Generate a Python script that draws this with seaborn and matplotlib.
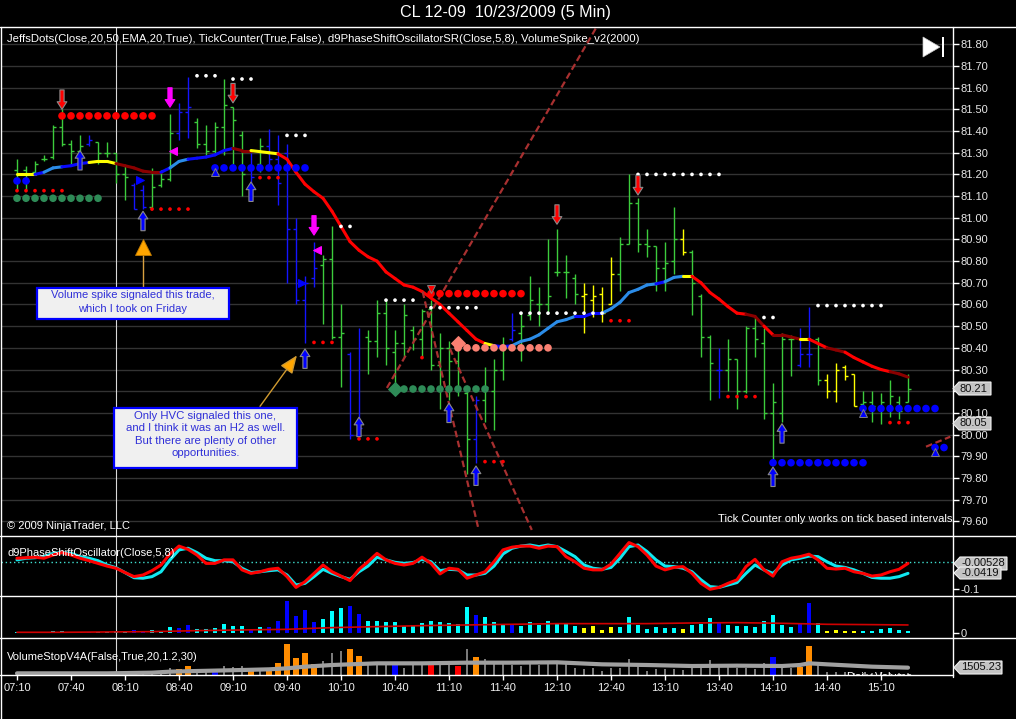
import numpy as np
import pandas as pd
import seaborn as sns
import matplotlib.pyplot as plt
from matplotlib.collections import LineCollection
from matplotlib.lines import Line2D
from matplotlib.patches import Polygon, Rectangle

W, H = 1016, 719

# 5 min bars CL 12-09, 10/23/2009, 07:10 .. 15:25
bar_open = [81.22, 81.22, 81.21, 81.27, 81.28, 81.42, 81.34, 81.31, 81.34, 81.35,
            81.30, 81.30, 81.20, 81.15, 81.13, 81.05, 81.15, 81.18, 81.39, 81.49,
            81.44, 81.34, 81.31, 81.42, 81.51, 81.38, 81.22, 81.25, 81.33, 81.27,
            81.30, 80.95, 80.62, 80.72, 80.78, 80.81, 80.45, 80.37, 80.00, 80.45,
            80.43, 80.56, 80.38, 80.42, 80.48, 80.44, 80.58, 80.32, 80.40, 80.34,
            80.19, 79.98, 80.16, 80.20, 80.30, 80.44, 80.47, 80.55, 80.60, 80.60,
            80.75, 80.75, 80.72, 80.64, 80.62, 80.65, 80.60, 80.74, 80.88, 81.07,
            80.88, 80.87, 80.77, 80.80, 80.90, 80.84, 80.64, 80.45, 80.30, 80.30,
            80.35, 80.20, 80.49, 80.42, 80.10, 80.10, 80.44, 80.32, 80.37, 80.44,
            80.25, 80.20, 80.31, 80.28, 80.14, 80.15, 80.12, 80.13, 80.15, 80.15]
bar_high = [81.27, 81.24, 81.26, 81.29, 81.43, 81.50, 81.36, 81.38, 81.38, 81.35,
            81.35, 81.30, 81.24, 81.16, 81.15, 81.23, 81.22, 81.48, 81.53, 81.65,
            81.46, 81.43, 81.44, 81.64, 81.51, 81.40, 81.30, 81.37, 81.41, 81.38,
            81.34, 81.00, 80.73, 80.89, 80.83, 80.96, 80.60, 80.38, 80.49, 80.48,
            80.62, 80.62, 80.48, 80.60, 80.50, 80.58, 80.62, 80.47, 80.43, 80.44,
            80.20, 80.18, 80.31, 80.35, 80.45, 80.56, 80.56, 80.73, 80.68, 80.90,
            80.95, 80.83, 80.74, 80.70, 80.69, 80.68, 80.82, 80.91, 81.20, 81.09,
            80.95, 80.87, 80.89, 81.05, 80.95, 80.85, 80.65, 80.46, 80.40, 80.44,
            80.35, 80.50, 80.54, 80.49, 80.24, 80.47, 80.46, 80.49, 80.59, 80.45,
            80.28, 80.33, 80.32, 80.28, 80.20, 80.20, 80.19, 80.25, 80.18, 80.28]
bar_low = [81.13, 81.13, 81.20, 81.26, 81.27, 81.33, 81.25, 81.30, 81.33, 81.25,
           81.28, 81.16, 81.08, 81.04, 81.04, 81.04, 81.14, 81.17, 81.36, 81.37,
           81.32, 81.29, 81.29, 81.29, 81.25, 81.10, 81.16, 81.21, 81.24, 81.06,
           80.70, 80.60, 80.42, 80.68, 80.51, 80.44, 80.22, 79.98, 79.99, 80.28,
           80.36, 80.32, 80.22, 80.36, 80.39, 80.36, 80.30, 80.12, 80.16, 80.18,
           79.82, 79.87, 80.06, 80.02, 80.25, 80.43, 80.34, 80.53, 80.50, 80.56,
           80.73, 80.63, 80.60, 80.47, 80.54, 80.52, 80.60, 80.66, 80.88, 80.84,
           80.82, 80.66, 80.66, 80.74, 80.83, 80.55, 80.36, 80.16, 80.17, 80.20,
           80.12, 80.19, 80.36, 80.07, 79.87, 80.06, 80.27, 80.31, 80.31, 80.23,
           80.17, 80.15, 80.25, 80.13, 80.10, 80.06, 80.05, 80.08, 80.07, 80.15]
bar_close = [81.20, 81.17, 81.25, 81.27, 81.42, 81.34, 81.31, 81.33, 81.36, 81.30,
             81.30, 81.20, 81.19, 81.04, 81.05, 81.14, 81.18, 81.39, 81.49, 81.51,
             81.34, 81.31, 81.42, 81.52, 81.45, 81.20, 81.19, 81.33, 81.27, 81.16,
             80.95, 80.62, 80.70, 80.77, 80.81, 80.45, 80.47, 80.00, 80.03, 80.43,
             80.56, 80.40, 80.42, 80.55, 80.44, 80.57, 80.32, 80.40, 80.34, 80.40,
             79.98, 80.16, 80.22, 80.30, 80.40, 80.48, 80.50, 80.62, 80.60, 80.64,
             80.75, 80.75, 80.65, 80.65, 80.64, 80.56, 80.74, 80.88, 81.07, 80.88,
             80.87, 80.77, 80.79, 80.90, 80.84, 80.70, 80.45, 80.33, 80.30, 80.35,
             80.20, 80.49, 80.44, 80.10, 80.15, 80.44, 80.44, 80.37, 80.37, 80.25,
             80.20, 80.30, 80.27, 80.13, 80.15, 80.13, 80.15, 80.18, 80.11, 80.21]
bar_color = ("gggggggg" "b" "gggg" "bb" "ggg" "bb" "gggggg" "b" "g" "bbbbbb"
             "ggg" "bb" "gggggggggggg" "b" "ggg" "b" "ggggggg" "yyyy" "ggggggg"
             "y" "ggg" "b" "gggggggg" "bb" "g" "yyyy" "gggggg")

# JeffsDots EMA(20), coloured per segment
ema = [81.20, 81.20, 81.20, 81.21, 81.23, 81.235, 81.24, 81.25, 81.255, 81.26,
       81.26, 81.25, 81.24, 81.23, 81.215, 81.21, 81.21, 81.23, 81.26, 81.27,
       81.275, 81.28, 81.29, 81.31, 81.32, 81.31, 81.31, 81.305, 81.30, 81.295,
       81.27, 81.21, 81.155, 81.12, 81.09, 81.03, 80.96, 80.89, 80.85, 80.82,
       80.80, 80.75, 80.72, 80.69, 80.68, 80.66, 80.63, 80.60, 80.56, 80.52,
       80.48, 80.44, 80.42, 80.41, 80.405, 80.41, 80.43, 80.44, 80.46, 80.49,
       80.52, 80.53, 80.545, 80.545, 80.56, 80.56, 80.58, 80.61, 80.655, 80.67,
       80.69, 80.695, 80.705, 80.725, 80.73, 80.73, 80.70, 80.655, 80.625, 80.59,
       80.56, 80.555, 80.545, 80.50, 80.46, 80.46, 80.45, 80.44, 80.44, 80.42,
       80.40, 80.39, 80.38, 80.355, 80.335, 80.315, 80.30, 80.29, 80.28, 80.265]
ema_seg = ("yy" "b" "ll" "bbb" "yyy" "ddddd" "b" "ll" "bbbbb" "dd" "yyy"
           + "r" * 23 + "y" "bb" "lllllll" "bbb" "llllll" "b" "ll" "y"
           "rrrrrr" "dd" "r" "ddd" "y" "rr" "dd" "rrrrr" "dd")

# dot rows: first bar, last bar, price, kind
dot_start = [5, 0, 0, 0, 15, 20, 24, 22, 27, 30, 36, 33, 38, 41, 46,
             46, 45, 49, 42, 52, 56, 66, 69, 79, 83, 84, 89, 94, 97, 102]
dot_end = [15, 5, 9, 1, 19, 22, 26, 32, 29, 32, 37, 35, 40, 44, 56,
           51, 45, 59, 52, 54, 65, 68, 78, 82, 84, 94, 96, 102, 99, 103]
dot_price = [81.47, 81.125, 81.09, 81.17, 81.04, 81.655, 81.64, 81.23, 81.185, 81.38,
             80.96, 80.425, 79.98, 80.62, 80.65, 80.585, 80.355, 80.40, 80.21, 79.875,
             80.56, 80.525, 81.20, 80.175, 80.54, 79.87, 80.595, 80.12, 80.055, 79.94]
dot_kind = ['R', 'r', 'G', 'B', 'r', 'w', 'w', 'B', 'r', 'w', 'w', 'r', 'r', 'w', 'R',
            'w', 'r', 'S', 'G', 'r', 'w', 'r', 'w', 'r', 'w', 'B', 'w', 'B', 'r', 'B']

# signal arrows
arrow_bar = [5, 7, 14, 17, 24, 26, 33, 32, 38, 48, 51, 60, 69, 85, 84]
arrow_tip = [81.50, 81.31, 81.03, 81.51, 81.53, 81.165, 80.92, 80.395, 80.08,
             80.145, 79.855, 80.97, 81.105, 80.05, 79.85]
arrow_dir = [-1, 1, 1, -1, -1, 1, -1, 1, 1, 1, 1, -1, -1, 1, 1]
arrow_col = ['red', 'blue', 'blue', 'magenta', 'red', 'blue', 'magenta', 'blue',
             'blue', 'blue', 'blue', 'red', 'red', 'blue', 'blue']

# small triangle / diamond markers
mark_x = [13.7, 17.3, 22, 31.7, 33.3, 46, 94, 102, 49, 42]
mark_y = [81.175, 81.31, 81.21, 80.70, 80.85, 80.67, 80.10, 79.92, 80.42, 80.21]
mark_m = ['>', '<', '^', '>', '<', 'v', '^', '^', 'D', 'D']
mark_c = ['#0000ff', '#ff00ff', '#0000ff', '#0000ff', '#ff00ff', '#ff0000',
          '#0000ff', '#0000ff', '#fa8072', '#2e8b57']

# hand drawn dashed trend lines (bar, price) -> (bar, price)
tl_x0 = [41.1, 45.07, 48.1, 101.0]
tl_y0 = [80.215, 80.66, 80.396, 79.944]
tl_x1 = [64.4, 51.3, 57.2, 103.7]
tl_y1 = [81.88, 79.56, 79.56, 79.99]

# d9PhaseShiftOscillator
osc_red = [0.015, 0.017, 0.019, 0.015, 0.027, 0.036, 0.027, 0.015, 0.006, -0.004,
           -0.014, -0.022, -0.038, -0.053, -0.047, -0.031, -0.010, 0.031, 0.060, 0.048,
           0.027, -0.004, -0.004, 0.009, 0.009, -0.028, -0.041, -0.035, -0.026, -0.022,
           -0.053, -0.093, -0.072, -0.041, -0.010, -0.035, -0.051, -0.068, -0.026, 0.002,
           0.033, 0.009, -0.004, -0.010, -0.004, 0.019, -0.004, -0.043, -0.022, -0.026,
           -0.059, -0.047, -0.035, 0.002, 0.046,
           0.056, 0.060, 0.060, 0.052, 0.060, 0.058, 0.021, 0.002, -0.022, -0.028,
           -0.028, -0.007, 0.033, 0.073, 0.058, 0.027, -0.014, -0.028, -0.019, -0.016,
           -0.041, -0.078, -0.100, -0.093, -0.078, -0.065, -0.016, 0.011, -0.028, -0.051,
           0.002, 0.015, 0.021, 0.030, 0.009, -0.022, -0.025, -0.022, -0.035, -0.041,
           -0.051, -0.047, -0.035, -0.026, -0.004]
osc_cyan = [0.009, 0.015, 0.017, 0.021, 0.033, 0.036, 0.033, 0.021, 0.015, 0.006,
            -0.010, -0.020, -0.038, -0.057, -0.059, -0.053, -0.035, 0.009, 0.046, 0.052,
            0.036, 0.015, 0.006, 0.006, 0.002, -0.022, -0.038, -0.035, -0.031, -0.028,
            -0.047, -0.084, -0.078, -0.053, -0.026, -0.041, -0.053, -0.063, -0.035, -0.014,
            0.019, 0.009, 0.000, -0.004, -0.001, 0.011, 0.002, -0.031, -0.026, -0.028,
            -0.047, -0.047, -0.041, -0.014, 0.031,
            0.052, 0.060, 0.064, 0.058, 0.064, 0.058, 0.040, 0.021, -0.010, -0.022,
            -0.026, -0.019, 0.015, 0.058, 0.064, 0.040, 0.009, -0.014, -0.016, -0.022,
            -0.035, -0.065, -0.090, -0.093, -0.084, -0.075, -0.041, -0.010, -0.028, -0.041,
            -0.010, 0.009, 0.015, 0.023, 0.021, 0.002, -0.014, -0.019, -0.028, -0.041,
            -0.056, -0.059, -0.059, -0.053, -0.041]

# volume spike panel
vol = [4, 3, 4, 3, 6, 7, 4, 4, 4, 4, 5, 6, 8, 10, 7, 10, 8, 19, 16, 25,
       13, 13, 16, 28, 22, 23, 13, 20, 19, 38, 97, 52, 70, 35, 43, 68, 76, 82, 58, 37,
       37, 34, 34, 22, 25, 30, 38, 34, 32, 28, 78, 55, 48, 33, 28,
       27, 22, 34, 25, 38, 28, 31, 22, 17, 22, 10, 18, 19, 48, 24, 14, 18, 17, 16, 13,
       24, 28, 45, 30, 24, 21, 22, 18, 37, 54, 24, 18, 30, 90, 30, 8, 10, 6, 6, 6,
       6, 13, 15, 10, 7]
vol_avg_bar = [0, 5, 10, 15, 20, 25, 30, 35, 40, 45, 50, 55, 60, 65, 70, 75, 80, 85, 90, 95, 99]
vol_avg = [3, 3, 4, 5, 8, 10, 12, 17, 20, 23, 25, 27, 29, 29, 29, 31, 32, 30, 27, 26, 25]

# VolumeStopV4A panel
vs = [5, 5, 5, 5, 5, 10, 5, 5, 5, 5, 6, 6, 6, 12, 6, 8, 10, 20, 18, 27,
      15, 17, 15, 27, 25, 27, 15, 17, 20, 37, 93, 52, 65, 33, 42, 65, 73, 78, 57, 37,
      37, 35, 33, 22, 32, 30, 37, 32, 30, 27, 78, 55, 47, 35, 32,
      30, 27, 35, 30, 40, 37, 32, 22, 17, 22, 12, 22, 22, 47, 27, 12, 17, 17, 17, 15,
      27, 27, 45, 27, 25, 22, 22, 17, 35, 53, 30, 20, 23, 87, 30, 8, 10, 8, 6, 6,
      6, 8, 6, 6, 6]
vs_color = ("ggggg" "r" "ggggggg" "o" "gggg" "oo" "gg" "b" "ggg" "o" "g" "oooooo"
            "ggg" "oo" "ggg" "b" "ggg" "r" "gg" "r" "g" "o" + "g" * 32 + "b" "gg" "oo"
            + "g" * 11)
vs_avg_bar = [0, 10, 15, 17, 20, 25, 28, 30, 32, 35, 40, 45, 50, 55, 60, 65, 70, 75,
              80, 85, 87, 88, 90, 95, 99]
vs_avg = [5, 5, 7, 10, 12, 15, 17, 20, 25, 30, 35, 35, 37, 37, 38, 32, 30, 27,
          28, 27, 30, 35, 32, 25, 22]

price_ticks = [79.6, 79.7, 79.8, 79.9, 80.0, 80.1, 80.2, 80.3, 80.4, 80.5, 80.6, 80.7,
               80.8, 80.9, 81.0, 81.1, 81.2, 81.3, 81.4, 81.5, 81.6, 81.7, 81.8]
tick_bars = [0, 6, 12, 18, 24, 30, 36, 42, 48, 54, 60, 66, 72, 78, 84, 90, 96]
time_labels = ["07:10", "07:40", "08:10", "08:40", "09:10", "09:40", "10:10", "10:40",
               "11:10", "11:40", "12:10", "12:40", "13:10", "13:40", "14:10", "14:40", "15:10"]

assert len(bar_color) == 100 and len(ema_seg) == 99 and len(vs_color) == 100

sns.set_style("dark", {"axes.facecolor": "black", "figure.facecolor": "black"})
plt.rcParams['font.family'] = ['Liberation Sans', 'DejaVu Sans']

fig = plt.figure(figsize=(W / 100, H / 100), dpi=100)
fig.patch.set_facecolor('black')


def fx(px):
    return px / W


def fy(py):
    return 1 - py / H


# layout in pixels: first bar at x=17, 9 px per bar, panels stacked
left, right = 1, 953


def panel(top, bottom):
    a = fig.add_axes([fx(left), fy(bottom), (right - left) / W, (bottom - top) / H])
    a.set_facecolor('black')
    for s in a.spines.values():
        s.set_visible(False)
    a.set_xlim((left - 17) / 9, (right - 17) / 9)
    a.set_xticks([])
    a.tick_params(axis='y', left=False, right=True, labelleft=False, labelright=True,
                  colors='white', labelcolor='#e8e8e8', labelsize=8, length=4,
                  width=1, pad=1.5)
    return a


ax = panel(27, 536)
ax_osc = panel(536, 596)
ax_vol = panel(596, 638)
ax_vs = panel(638, 675)

n = len(bar_open)
idx = np.arange(n)

# ---- main price panel
ax.set_ylim(79.532, 81.88)
ax.set_yticks(price_ticks)
# the 80.20 label sits under the last-price tag, as in NinjaTrader
ax.set_yticklabels(["" if abs(p - 80.2) < 1e-6 else f"{p:.2f}" for p in price_ticks])
ax.grid(True, axis='y', color='#333333', lw=1)
ax.grid(False, axis='x')
ax.set_axisbelow(True)

bar_cmap = {'g': '#3ccc3c', 'b': '#1414ff', 'y': '#ffff00'}
cols = [bar_cmap[c] for c in bar_color]
ax.vlines(idx, bar_low, bar_high, colors=cols, lw=1, zorder=2)
ax.hlines(bar_open, idx - 0.35, idx, colors=cols, lw=1, zorder=2)
ax.hlines(bar_close, idx, idx + 0.35, colors=cols, lw=1, zorder=2)

ema_cmap = {'y': '#ffff00', 'b': '#0a0aff', 'l': '#2b8ce8', 'd': '#8b0000', 'r': '#ff0000'}
segs = [[(i, ema[i]), (i + 1, ema[i + 1])] for i in range(n - 1)]
ax.add_collection(LineCollection(segs, colors=[ema_cmap[c] for c in ema_seg],
                                 lw=2.2, zorder=3, capstyle='round'))

rows = []
for a0, a1, p, k in zip(dot_start, dot_end, dot_price, dot_kind):
    for b in range(a0, a1 + 1):
        rows.append({'x': b, 'price': p, 'kind': k})
dots = pd.DataFrame(rows)
dot_style = {'R': ('#ff0000', 30), 'r': ('#ff0000', 7), 'G': ('#2e8b57', 30),
             'B': ('#0000ff', 30), 'S': ('#fa8072', 30), 'w': ('#ffffff', 7)}
for k, (c, s) in dot_style.items():
    sub = dots[dots['kind'] == k]
    sns.scatterplot(data=sub, x='x', y='price', color=c, s=s, edgecolor='none',
                    ax=ax, zorder=4, legend=False)

for x, y, m, c in zip(mark_x, mark_y, mark_m, mark_c):
    ax.plot(x, y, marker=m, color=c, ms=6 if m != 'D' else 7, mec='#808080' if m in '^v' else c,
            mew=0.7, ls='none', zorder=5)

for b, tip, d, c in zip(arrow_bar, arrow_tip, arrow_dir, arrow_col):
    ax.annotate('', xy=(b, tip), xytext=(0, -14 * d), textcoords='offset points',
                arrowprops=dict(arrowstyle='simple,head_length=0.55,head_width=0.7,tail_width=0.3',
                                fc=c, ec='#8a8a8a' if c != 'magenta' else c, lw=0.8,
                                shrinkA=0, shrinkB=0, mutation_scale=10), zorder=6)

for a0, b0, a1, b1 in zip(tl_x0, tl_y0, tl_x1, tl_y1):
    ax.plot([a0, a1], [b0, b1], color='#a83030', lw=1.6, dashes=(3, 1.6), zorder=3)

# volume spike marker and annotation arrow
ax.plot([14, 14], [80.83, 80.68], color='#d8a040', lw=1, zorder=5)
ax.plot(14, 80.865, marker='^', color='#ffa500', ms=11, mec='#c07a00', mew=0.6, zorder=6)
ax.annotate('', xy=(31.1, 80.365), xytext=(27.0, 80.13),
            arrowprops=dict(arrowstyle='-|>,head_length=1.1,head_width=0.45',
                            fc='#ffa500', ec='#d09a30', lw=1, mutation_scale=10,
                            shrinkA=0, shrinkB=0), zorder=6)

# ---- oscillator panel
ax_osc.set_ylim(-0.1248, 0.0974)
ax_osc.set_yticks([-0.1])
ax_osc.set_yticklabels(['-0.1'])
ax_osc.axhline(0, color='#40e0d0', lw=1, ls=(0, (1, 2)))
sns.lineplot(x=idx, y=osc_cyan, color='#10e8f0', lw=2.2, ax=ax_osc)
sns.lineplot(x=idx, y=osc_red, color='#ff0000', lw=2.2, ax=ax_osc)

# ---- volume spike panel
ax_vol.set_ylim(-14.1, 111.9)
ax_vol.set_yticks([0])
ax_vol.set_yticklabels(['0'])
vol_cmap = {'g': '#00ffff', 'b': '#0000ff', 'y': '#ffff00'}
ax_vol.bar(idx, vol, width=0.36, color=[vol_cmap[c] for c in bar_color],
           edgecolor='none', linewidth=0, zorder=2)
sns.lineplot(x=vol_avg_bar, y=vol_avg, color='#d00000', lw=1.2, ax=ax_vol, zorder=3)

# ---- volume stop panel
ax_vs.set_ylim(0, 111)
ax_vs.set_yticks([])
vs_cmap = {'g': '#7a7a7a', 'o': '#ff8c00', 'b': '#0000ff', 'r': '#ff0000'}
vs_w = [0.3 if c == 'g' else 0.65 for c in vs_color]
ax_vs.bar(idx, vs, width=vs_w, color=[vs_cmap[c] for c in vs_color],
          edgecolor='none', linewidth=0, zorder=2)
sns.lineplot(x=vs_avg_bar, y=vs_avg, color='#a0a0a0', lw=3, ax=ax_vs, zorder=3)
ax_vs.text(92.2, 9, 'Daily Volume', color='white', fontsize=8, va='top', clip_on=True)
ax_vs.set_xticks(tick_bars)
ax_vs.set_xticklabels(time_labels)
ax_vs.tick_params(axis='x', bottom=True, colors='white', labelcolor='#f0f0f0',
                  labelsize=8, length=3.5, width=1, pad=2)

for a in (ax, ax_osc, ax_vol, ax_vs):
    a.axvline(11.03, color='#d8d8d8', lw=0.8, zorder=1)
    a.set_xlabel('')
    a.set_ylabel('')

# ---- frame lines
for y0, xe in ((27, 1016), (536, 1016), (596, 1016), (638, 1016), (675, 953)):
    fig.add_artist(Line2D([fx(0), fx(xe)], [fy(y0), fy(y0)], color='white', lw=1))
fig.add_artist(Line2D([fx(1), fx(1)], [fy(27), fy(719)], color='white', lw=1))
fig.add_artist(Line2D([fx(953), fx(953)], [fy(27), fy(677)], color='white', lw=1))

# ---- texts
fig.text(fx(505), fy(13), 'CL 12-09  10/23/2009 (5 Min)', ha='center', va='center',
         fontsize=11.6, color='white')
fig.text(fx(7), fy(39), 'JeffsDots(Close,20,50,EMA,20,True), TickCounter(True,False), '
         'd9PhaseShiftOscillatorSR(Close,5,8), VolumeSpike_v2(2000)',
         ha='left', va='center', fontsize=8.2, color='white')
fig.text(fx(7), fy(526), '\u00a9 2009 NinjaTrader, LLC', ha='left', va='center',
         fontsize=8, color='white')
fig.text(fx(952), fy(519), 'Tick Counter only works on tick based intervals',
         ha='right', va='center', fontsize=8.1, color='white')
fig.text(fx(7), fy(553), 'd9PhaseShiftOscillator(Close,5,8)', ha='left', va='center',
         fontsize=8, color='white')
fig.text(fx(7), fy(657), 'VolumeStopV4A(False,True,20,1.2,30)', ha='left', va='center',
         fontsize=8, color='white')

# play icon
fig.add_artist(Polygon([(fx(923), fy(37)), (fx(923), fy(57)), (fx(940), fy(47))],
                       closed=True, fc='white', ec='#c8c8c8', lw=0.5))
fig.add_artist(Rectangle((fx(941.5), fy(57)), 2.5 / W, 20 / H, fc='white', ec='none'))

# note boxes
box_col = '#2f2fd8'
fig.add_artist(Rectangle((fx(37), fy(319)), 192 / W, 31 / H, fc='#f0f0f0', ec='#0000ff', lw=1.6))
for t, yy in (('Volume spike signaled this trade,', 295.5), ('which I took on Friday', 308.5)):
    fig.text(fx(133), fy(yy), t, ha='center', va='center', fontsize=8, color=box_col)
fig.add_artist(Rectangle((fx(114), fy(468)), 183 / W, 60 / H, fc='#f0f0f0', ec='#0000ff', lw=1.6))
for t, yy in (('Only HVC signaled this one,', 415.5), ('and I think it was an H2 as well.', 428),
              ('But there are plenty of other', 440.5), ('opportunities.', 453)):
    fig.text(fx(205.5), fy(yy), t, ha='center', va='center', fontsize=8.2, color=box_col)


# value tags on the right axis
def tag(x0, x1, yc, h, text):
    pts = [(x0, yc), (x0 + 6, yc - h / 2), (x1, yc - h / 2), (x1, yc + h / 2), (x0 + 6, yc + h / 2)]
    fig.add_artist(Polygon([(fx(a), fy(b)) for a, b in pts], closed=True,
                           fc='#c4c4c4', ec='#f0f0f0', lw=0.8, zorder=4))
    fig.text(fx(x0 + 7), fy(yc), text, ha='left', va='center', fontsize=8,
             color='#101010', zorder=5)


tag(953, 991, 388.5, 13, '80.21')
tag(953, 991, 423.5, 13, '80.05')
tag(954, 1007, 563.5, 13, '-0.00528')
tag(954, 1001, 573, 12, '-0.0419')
tag(954, 1002, 667.5, 13, '1505.23')

fig.savefig('out.png', dpi=100, facecolor='black')
